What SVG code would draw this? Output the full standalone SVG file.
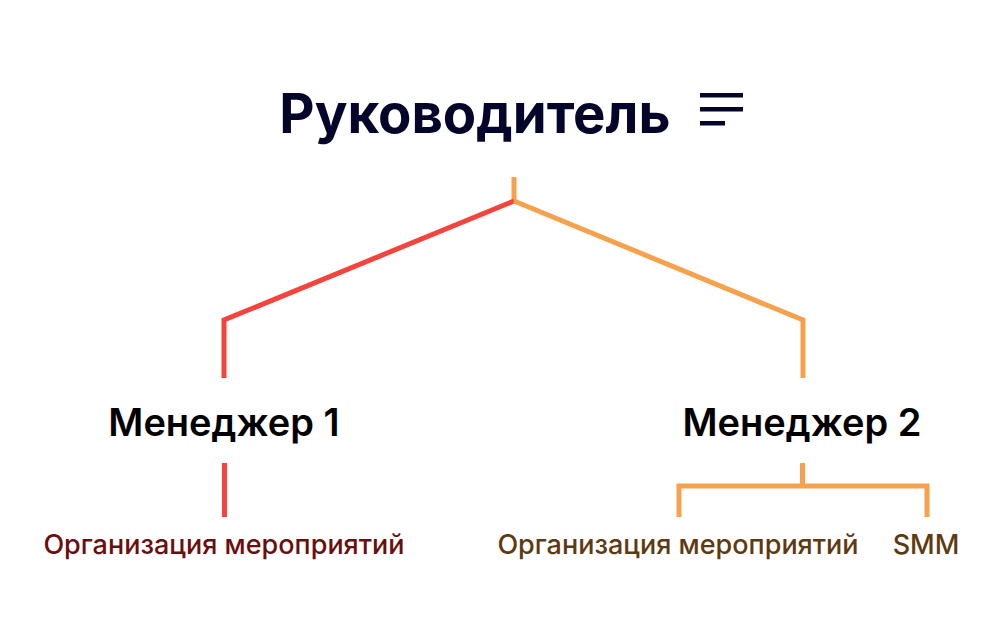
<svg xmlns="http://www.w3.org/2000/svg" width="1004" height="624" viewBox="0 0 1004 624">
<style>
.title{font-family:Inter,"Noto Sans",sans-serif;font-weight:700;font-size:54.5px;fill:#05052B}
.mgr{font-family:Inter,"Noto Sans",sans-serif;font-weight:600;font-size:38px;fill:#000}
.task{font-family:Inter,"Noto Sans",sans-serif;font-weight:500;font-size:27px}
.red{stroke:#F4443D}
.orange{stroke:#F6A14D}
.ln{fill:none;stroke-width:5;stroke-linejoin:miter;stroke-linecap:butt}
</style>
<rect width="1004" height="624" fill="#fff"/>
<g id="head">
<text class="title" x="475" y="133" text-anchor="middle">Руководитель</text>
<g id="menu-icon" fill="#05052B">
<rect x="700" y="93" width="43" height="4.5"/>
<rect x="700" y="107" width="43" height="4.5"/>
<rect x="700" y="121" width="25" height="4.5"/>
</g>
</g>
<g id="connectors" class="ln">
<path class="orange" d="M514 177 V201"/>
<path class="red" d="M514 201 L224 320 V378"/>
<path class="orange" d="M514 201 L803 320 V378"/>
<path class="red" d="M224.5 463 V517"/>
<path class="orange" d="M802.5 463 V486 M679 517 V486 H927 V517"/>
</g>
<g id="manager1">
<text class="mgr" x="224" y="436" text-anchor="middle">Менеджер 1</text>
</g>
<g id="manager2">
<text class="mgr" x="802" y="436" text-anchor="middle">Менеджер 2</text>
</g>
<g id="task1">
<text class="task" x="224" y="554" text-anchor="middle" fill="#6B0E0E">Организация мероприятий</text>
</g>
<g id="task2">
<text class="task" x="678" y="554" text-anchor="middle" fill="#5E3A12">Организация мероприятий</text>
</g>
<g id="task3">
<text class="task" x="926" y="554" text-anchor="middle" fill="#5E3A12">SMM</text>
</g>
</svg>
